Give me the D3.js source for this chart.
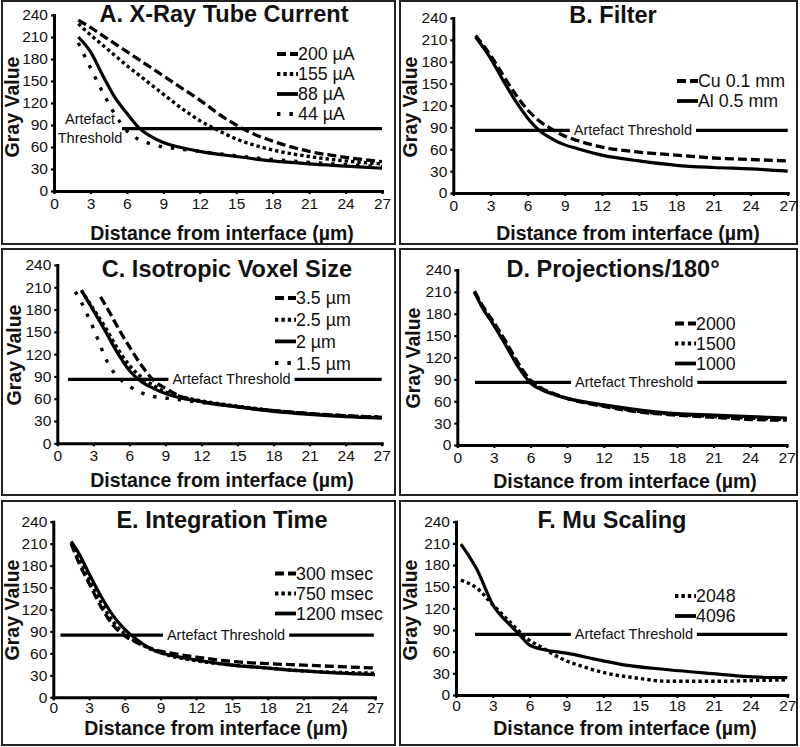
<!DOCTYPE html>
<html><head><meta charset="utf-8">
<script src="https://cdn.jsdelivr.net/npm/d3@7"></script>
<style>
body{margin:0;background:#fff}
svg{display:block}
text{font-family:"Liberation Sans",Arial,Helvetica,sans-serif;fill:#111}
</style>
</head><body>
<svg id="chart" width="800" height="747"></svg>
<script>
// ---------- shared axis data ----------
const xTickValues = [0,3,6,9,12,15,18,21,24,27];
const yTickValues = [0,30,60,90,120,150,180,210,240];
const xDomain = [0,27];
const yDomain = [0,240];
const xAxisTitle = "Distance from interface (µm)";
const yAxisTitle = "Gray Value";
const thresholdLabel = "Artefact Threshold";
const panelTitles = ["A. X-Ray Tube Current","B. Filter","C. Isotropic Voxel Size","D. Projections/180°","E. Integration Time","F. Mu Scaling"];

// threshold line per panel
const thresholdValue = [85,86,86,86,85,84];
const thresholdStart = [5.6,1.75,0.9,1.45,0.6,1.55];
const thresholdEnd   = [27,27,27,27,26.9,27];

// ---------- A. X-Ray Tube Current ----------
const tubeLabels = ["200 µA","155 µA","88 µA","44 µA"];
const tube200X = [2,3,4,5,6,7,8,9,10,12,14,15,16,18,21,24,27];
const tube200Y = [233,223,212,201,190,179,168,157,146,124,100,90,81,68,54,46,40];
const tube155X = [2,3,4,5,6,7,8,9,10,11,12,13,15,18,21,24,27];
const tube155Y = [228,213,199,185,171,158,145,132,119,107,96,87,71,56,47,41,37];
const tube88X  = [2,3,4,5,6,7,8,9,10,12,15,18,21,24,27];
const tube88Y  = [210,190,158,128,106,86,74,66,61,54,47,41,37,34,31];
const tube44X  = [2,3,4,5,6,7,8,9,10,12,15,18,21,24,27];
const tube44Y  = [202,168,135,105,82,70,64,60,58,54,48,43,39,36,33];

// ---------- B. Filter ----------
const filterLabels = ["Cu 0.1 mm","Al 0.5 mm"];
const filterX  = [1.8,3,4,5,6,7,8,9,10,12,15,18,21,24,27];
const filterCu = [216,189,162,136,114,98,87,78,72,63,56,52,48,46,44];
const filterAl = [214,185,155,127,103,85,74,66,61,52,44,38,35,33,30];

// ---------- C. Isotropic Voxel Size ----------
const voxelLabels = ["3.5 µm","2.5 µm","2 µm","1.5 µm"];
const voxel35X = [3.6,4.5,5,6,7,8,9,10,12,15,18,21,24,27];
const voxel35Y = [197,172,157,130,105,85,74,65,56,49,44,40,37,35];
const voxel25X = [2,3,4,5,6,7,8,9,10,12,15,18,21,24,27];
const voxel25Y = [206,181,156,128,105,89,78,69,64,57,50,44,40,37,35];
const voxel2X  = [2,3,4,5,6,7,8,9,10,12,15,18,21,24,27];
const voxel2Y  = [206,179,151,122,98,83,74,67,62,56,49,43,39,36,34];
const voxel15X = [1.5,2,2.5,3,3.5,4,4.5,5,6,7,8,9,10,12,15,18,21,24,27];
const voxel15Y = [204,190,173,155,135,115,100,90,77,68,63,61,59,55,49,44,40,37,35];

// ---------- D. Projections/180° ----------
const projLabels = ["2000","1500","1000"];
const projX    = [1.4,2,3,4,5,6,7,8,9,12,15,18,21,24,27];
const proj2000 = [211,193,168,141,112,89,77,70,64,53,45,41,38,35,34];
const proj1500 = [210,191,166,139,110,87,76,69,64,54,46,42,39,37,35];
const proj1000 = [210,190,164,136,107,85,75,69,64,55,48,43,41,39,37];

// ---------- E. Integration Time ----------
const timeLabels = ["300 msec","750 msec","1200 msec"];
const timeX    = [1.5,2.2,3,4,5,6,7,8,9,10,12,15,18,21,24,27];
const time300  = [210,182,156,124,99,84,75,68,63,60,55,49,46,44,42,40];
const time750  = [211,188,162,130,104,87,76,67,61,56,50,44,40,36,34,33];
const time1200 = [213,195,169,138,112,93,79,68,61,57,51,44,40,36,33,31];

// ---------- F. Mu Scaling ----------
const muLabels = ["2048","4096"];
const mu2048X = [0.4,1.7,3,4.4,5.8,7.1,8.5,10.4,12.3,14.5,17.3,21.4,24.2,27];
const mu2048Y = [159,148,125,101,78,65,51,39,30,24,19,19,20,21];
const mu4096X = [0.4,1.7,3,4.4,5.2,6,7.1,9,11.8,14,17.3,21.4,24.2,27];
const mu4096Y = [209,174,125,97,83,69,63,58,48,41,35,29,25,24];

// ---------- assemble (data only) ----------
const panelsData = [
  {series:[
    {label:tubeLabels[0], x:tube200X, y:tube200Y, style:"dash"},
    {label:tubeLabels[1], x:tube155X, y:tube155Y, style:"dot"},
    {label:tubeLabels[2], x:tube88X,  y:tube88Y,  style:"solid"},
    {label:tubeLabels[3], x:tube44X,  y:tube44Y,  style:"sparse"}]},
  {series:[
    {label:filterLabels[0], x:filterX, y:filterCu, style:"dash"},
    {label:filterLabels[1], x:filterX, y:filterAl, style:"solid"}]},
  {series:[
    {label:voxelLabels[0], x:voxel35X, y:voxel35Y, style:"dash"},
    {label:voxelLabels[1], x:voxel25X, y:voxel25Y, style:"dot"},
    {label:voxelLabels[2], x:voxel2X,  y:voxel2Y,  style:"solid"},
    {label:voxelLabels[3], x:voxel15X, y:voxel15Y, style:"sparse"}]},
  {series:[
    {label:projLabels[0], x:projX, y:proj2000, style:"dash"},
    {label:projLabels[1], x:projX, y:proj1500, style:"dot"},
    {label:projLabels[2], x:projX, y:proj1000, style:"solid"}]},
  {series:[
    {label:timeLabels[0], x:timeX, y:time300,  style:"dash"},
    {label:timeLabels[1], x:timeX, y:time750,  style:"dot"},
    {label:timeLabels[2], x:timeX, y:time1200, style:"solid"}]},
  {series:[
    {label:muLabels[0], x:mu2048X, y:mu2048Y, style:"dot"},
    {label:muLabels[1], x:mu4096X, y:mu4096Y, style:"solid"}]}
];

// ---------- layout (pixels) ----------
const layout = [
  {box:[2,1,395,244],   px:[54,382],     py:[191,15],      title:[224,21.5], xt:[222,240],   yt:[19,107],  lg:[277,54,20],    pad:4},
  {box:[400,1,797,244], px:[453.3,787.7],py:[193,18],      title:[613,23],   xt:[628,240],   yt:[417,107], lg:[677,81,20],    pad:4},
  {box:[2,249,395,495], px:[57.3,381.7], py:[443.3,265],   title:[227,276.5],xt:[222,486.5], yt:[21,355],  lg:[275,298,21.7], pad:4},
  {box:[400,249,797,495],px:[457.3,786.7],py:[445,270],    title:[613,276.5],xt:[625,488],   yt:[420,358], lg:[675,323.5,20], pad:4},
  {box:[2,501,395,745], px:[53.3,375],   py:[697.3,521.7], title:[222,528],  xt:[216,735],   yt:[19,610],  lg:[275,573.5,20], pad:2},
  {box:[400,501,797,745],px:[456,787.3], py:[695,521.7],   title:[612,528],  xt:[625,734.5], yt:[417,610], lg:[675,596,20],   pad:2}
];
const styles = {
  dash:  {dash:"9,4",   w:3.3},
  dot:   {dash:"3.4,3", w:3.4},
  sparse:{dash:"3.4,9", w:3.4},
  solid: {dash:null,    w:3.2}
};

const svg = d3.select("#chart");
svg.append("rect").attr("width",800).attr("height",747).attr("fill","#fff");

panelsData.forEach((pd,i)=>{
  const L = layout[i];
  const g = svg.append("g");
  // border
  g.append("rect")
    .attr("x",L.box[0]).attr("y",L.box[1])
    .attr("width",L.box[2]-L.box[0]).attr("height",L.box[3]-L.box[1])
    .attr("fill","none").attr("stroke","#222").attr("stroke-width",2);

  const x = d3.scaleLinear().domain(xDomain).range(L.px);
  const y = d3.scaleLinear().domain(yDomain).range(L.py);

  // axes
  const xa = g.append("g").attr("transform",`translate(0,${L.py[0]})`)
    .call(d3.axisBottom(x).tickValues(xTickValues).tickSizeInner(3).tickSizeOuter(0).tickPadding(L.pad));
  const ya = g.append("g").attr("transform",`translate(${L.px[0]},0)`)
    .call(d3.axisLeft(y).tickValues(yTickValues).tickSizeInner(3).tickSizeOuter(0).tickPadding(3));
  [xa,ya].forEach(a=>{
    a.select(".domain").attr("stroke","#000").attr("stroke-width",3).attr("stroke-linecap","square");
    a.selectAll(".tick line").attr("stroke","#000").attr("stroke-width",2.2);
    a.selectAll(".tick text").attr("fill","#111").style("font-size","15.5px").attr("font-family",null);
  });

  // titles
  g.append("text").attr("x",L.title[0]).attr("y",L.title[1]).attr("text-anchor","middle")
    .style("font-size","23.5px").style("font-weight","bold").text(panelTitles[i]);
  g.append("text").attr("x",L.xt[0]).attr("y",L.xt[1]).attr("text-anchor","middle")
    .style("font-size","19.5px").style("font-weight","bold").text(xAxisTitle);
  g.append("text").attr("transform",`translate(${L.yt[0]},${L.yt[1]}) rotate(-90)`).attr("text-anchor","middle")
    .style("font-size","19.5px").style("font-weight","bold").text(yAxisTitle);

  // threshold
  const ty = y(thresholdValue[i]);
  g.append("line").attr("x1",x(thresholdStart[i])).attr("x2",x(thresholdEnd[i]))
    .attr("y1",ty).attr("y2",ty).attr("stroke","#000").attr("stroke-width",3.2);

  // curves
  const line = d3.line().x(d=>x(d[0])).y(d=>y(d[1])).curve(d3.curveMonotoneX);
  pd.series.forEach(s=>{
    const pts = s.x.map((xv,k)=>[xv,s.y[k]]);
    const st = styles[s.style];
    g.append("path").attr("d",line(pts)).attr("fill","none").attr("stroke","#000")
      .attr("stroke-width",st.w).attr("stroke-dasharray",st.dash);
  });

  // threshold label
  if(i===0){
    const lab = thresholdLabel.split(" ");
    g.append("text").attr("x",90).attr("y",123.5).attr("text-anchor","middle").style("font-size","14.5px").text(lab[0]);
    g.append("text").attr("x",90).attr("y",143).attr("text-anchor","middle").style("font-size","14.5px").text(lab[1]);
  } else {
    const t = g.append("text").attr("x",x(14.5)).attr("y",ty).attr("dy","0.35em").attr("text-anchor","middle")
      .style("font-size","14.5px").text(thresholdLabel);
    const bb = t.node().getBBox();
    g.insert("rect", () => t.node()).attr("x",bb.x-4).attr("y",ty-4).attr("width",bb.width+8).attr("height",8).attr("fill","#fff");
  }

  // legend
  pd.series.forEach((s,k)=>{
    const cy = L.lg[1] + k*L.lg[2];
    const st = styles[s.style];
    g.append("line").attr("x1",L.lg[0]).attr("x2",L.lg[0]+21).attr("y1",cy).attr("y2",cy)
      .attr("stroke","#000").attr("stroke-width",st.w+0.6).attr("stroke-dasharray",st.dash);
    g.append("text").attr("x",L.lg[0]+21).attr("y",cy).attr("dy","0.36em")
      .style("font-size","17.8px").text(s.label);
  });
});
</script>
</body></html>
